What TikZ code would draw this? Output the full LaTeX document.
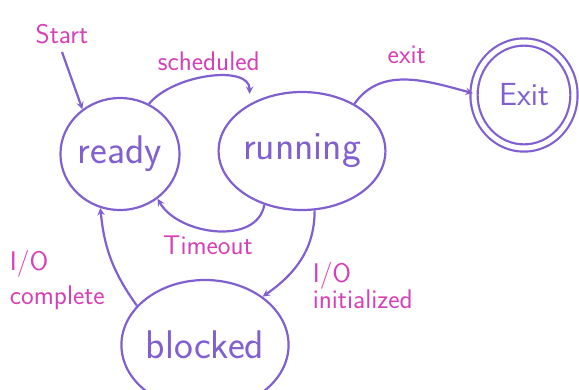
\documentclass[tikz,border=0pt]{standalone}
\usepackage{xcolor}
\usetikzlibrary{shapes.geometric}
\definecolor{statepurple}{RGB}{128,96,208}
\definecolor{labelpink}{RGB}{214,64,182}

\begin{document}
\begin{tikzpicture}[x=1pt,y=-1pt,
  state/.style={ellipse, draw=statepurple, line width=2.2pt, inner sep=0pt,
    text=statepurple, font=\sffamily\fontsize{40}{44}\selectfont},
  trans/.style={statepurple, line width=2.2pt, -{stealth[scale=1.5]}},
  lbl/.style={text=labelpink, font=\sffamily\fontsize{27}{27}\selectfont}]
\useasboundingbox (0,0) rectangle (579,389);
\node[state, minimum width=116pt, minimum height=112pt] (ready) at (120,154) {ready};
\node[state, minimum width=145pt, minimum height=118pt] (running) at (302,151) {running};
\node[state, minimum width=100pt, minimum height=106pt, double=white, double distance=5pt,
  font=\sffamily\fontsize{32}{36}\selectfont] (exit) at (524,95) {Exit};
\node[state, minimum width=155pt, minimum height=130pt] (blocked) at (205,345) {blocked};
\coordinate (start) at (62,52);
\draw[trans] (start) node[lbl, above=4pt] {Start} -- (ready.130);
\draw[trans, shorten >=10pt] (ready.60) to[out=50, in=90]
  node [lbl, midway, above=3pt] {scheduled} (running.138);
\draw[trans] (running.42) to[out=55, in=165]
  node [lbl, midway, above=12pt] {exit} (exit.178);
\draw[trans] (running.235) to[out=-100, in=-60]
  node [lbl, midway, below=1pt, xshift=-8pt] {Timeout} (ready.-50);
\draw[trans] (running.-78) to[out=-90, in=35]
  node [lbl, pos=.5, anchor=north west, align=left, inner sep=1pt, xshift=10pt,
    font=\sffamily\fontsize{27}{24}\selectfont] {I/O\\initialized} (blocked.40);
\draw[trans] (blocked.150) to[bend left=15]
  node [lbl, midway, left=2pt, yshift=-20pt, align=left,
    font=\sffamily\fontsize{27}{34}\selectfont] {I/O\\complete} (ready.-110);
\end{tikzpicture}
\end{document}
